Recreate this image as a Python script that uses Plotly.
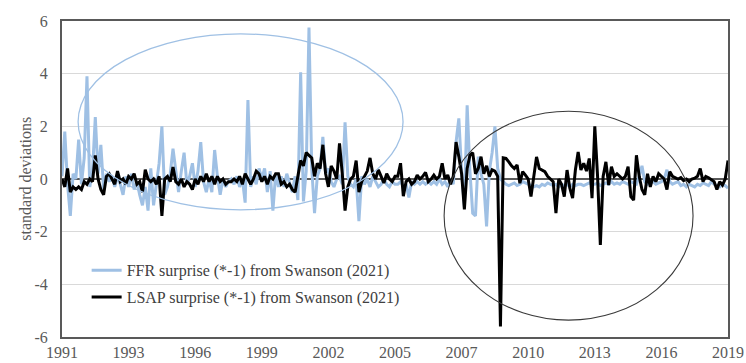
import plotly.graph_objects as go

# Tick labels on the category axis (every 24 announcements)
tick_labels = ["1991", "1993", "1996", "1999", "2002", "2005",
               "2007", "2010", "2013", "2016", "2019"]
y_ticks = [-6, -4, -2, 0, 2, 4, 6]
y_tick_labels = ["-6", "-4", "-2", "0", "2", "4", "6"]

ffr = [
    0.1, 1.8, -0.2, -1.4, 0.2, 0.0, 1.5, -0.2, 0.8, 3.9,
    -0.3, 0.3, 2.35, 0.2, 1.3, -0.4, 0.2, -0.1, 0.1, -0.3,
    0.1, -0.2, -0.6, 0.1, -0.3, 0.2, -0.4, -0.1, -0.6, -1.0,
    -0.3, -1.2, 0.4, -1.0, -0.2, 0.6, 2.0, -0.6, -0.3, 0.2,
    1.15, 0.2, -0.5, 0.3, 1.0, -0.2, 0.1, 0.6, -0.3, 0.3,
    1.4, -0.1, -0.5, 0.0, -0.5, 1.1, 0.1, -0.6, 0.0, -0.3,
    -0.1, 0.0, -0.2, 0.1, -0.3, 0.0, -0.9, 3.0, -0.3, 0.1,
    -0.2, 0.4, 0.0, 0.4, -0.5, 0.3, -1.2, 0.2, -0.3, 0.1,
    -0.3, 0.2, -0.2, -0.5, 0.1, -0.8, 4.05, -0.85, 0.3, 5.75,
    0.4, -1.3, 0.1, 0.4, 1.6, 0.2, 0.4, -0.1, -0.3, 0.0,
    0.1, -0.2, 2.15, 0.1, -0.2, -0.3, 0.0, -1.6, 0.1, -0.2,
    0.0, -0.3, 0.1, -0.1, -0.3, -0.2, 0.0, -0.2, -0.3, -0.1,
    -0.2, -0.2, -0.1, -0.3, -0.2, -0.7, -0.1, -0.2, -0.1, -0.2,
    -0.1, -0.2, -0.1, -0.2, -0.1, -0.2, 0.0, -0.2, -0.1, -0.3,
    0.0, -0.2, 1.4, 2.3, 0.3, -1.05, 2.8, 0.3, -1.3, -1.4,
    0.85, 0.2, -0.2, -1.8, 0.3, 1.0, 2.0, 0.4, 0.0, -0.1,
    -0.2, -0.25, -0.2, -0.15, -0.25, -0.2, -0.1, -0.15, -0.2, -0.25,
    -0.3, -0.25, -0.3, -0.2, -0.25, -0.15, -0.2, -0.25, -0.2, -0.3,
    -0.2, -0.25, -0.2, -0.3, -0.2, -0.25, -0.2, -0.2, -0.25, -0.2,
    -0.15, -0.2, -0.2, -0.15, -0.25, -0.2, -0.15, -0.2, -0.1, -0.2,
    -0.15, -0.2, -0.1, -0.15, -0.2, -0.1, -0.15, -0.2, 0.1, 0.5,
    -0.1, -0.2, -0.15, -0.1, -0.2, -0.15, -0.1, 0.0, 0.35, -0.1,
    -0.2, -0.15, -0.1, -0.25, -0.2, -0.3, -0.2, -0.25, -0.3, -0.2,
    -0.25, -0.15, -0.2, -0.25, -0.1, -0.2, -0.25, -0.3, -0.2, -0.25,
    -0.35,
]

lsap = [
    0.0, -0.3, 0.4, -0.5, -0.3, -0.4, -0.3, -0.4, -0.1, -0.2,
    0.0, -0.1, 0.9, 0.0, -0.4, -0.6, 0.1, 0.2, 0.0, -0.2,
    0.3, -0.1, 0.0, -0.2, 0.1, 0.0, 0.2, -0.2, -0.1, -0.5,
    0.35, 0.0, -0.1, 0.0, -0.2, 0.1, -1.4, 0.0, 0.1, -0.1,
    0.45, -0.1, -0.2, 0.0, -0.3, -0.1, -0.2, -0.4, 0.0, -0.2,
    0.1, -0.1, 0.2, -0.1, 0.1, -0.2, 0.1, -0.1, 0.0, -0.2,
    -0.1, -0.1, 0.0, -0.1, 0.1, -0.2, 0.2, 0.0, -0.2, 0.0,
    0.3, 0.2, -0.1, 0.1, -0.2, 0.1, 0.0, 0.2, 0.2, -0.2,
    -0.1, -0.3, -0.2, -0.4, -0.5, 0.1, 0.7, 0.5, 1.0, 0.9,
    0.8, 0.1, 0.6, 0.4, 1.3, 0.2, -0.3, 0.5, 0.3, 0.0,
    1.35, 0.2, -1.2, -0.3, 0.0, 0.1, 0.7, -0.5, -0.1, 0.1,
    0.3, 0.8, 0.2, 0.0, 0.35, 0.1, -0.15, 0.2, 0.0, -0.1,
    0.1, 0.1, 0.6, -0.65, -0.1, 0.0, -0.2, -0.1, 0.15, 0.0,
    0.1, 0.25, -0.1, 0.0, 0.15, 0.0, 0.1, 0.6, 0.0, 0.15,
    -0.2, 0.1, 1.4, 0.85, 0.2, -1.15, 0.4, 0.9, 1.0, 0.2,
    0.4, 0.85, 0.2, 0.5, 0.1, 0.35, 0.3, 0.1, -5.6, 0.8,
    0.78, 0.65, 0.5, 0.4, 0.53, -0.16, 0.28, 0.15, 0.0, -0.67,
    0.1, 0.84, 0.4, 0.34, 0.28, 0.1, 0.0, -0.1, -1.3, 0.0,
    -0.2, -0.67, 0.34, -0.35, -0.73, 0.34, 1.03, 0.34, 0.6, 0.3,
    0.78, -0.73, 2.0, 0.1, -2.5, 0.1, 0.65, -0.23, 0.47, 0.1,
    0.2, 0.1, 0.0, 0.1, 0.47, -0.67, -0.8, 0.9, 0.1, -0.4,
    -0.6, 0.2, -0.3, 0.1, -0.1, 0.2, 0.1, 0.0, -0.4, 0.28,
    0.1, 0.05, 0.0, 0.05, -0.06, 0.0, -0.1, 0.0, 0.03, 0.1,
    0.4, -0.1, 0.1, 0.05, -0.03, -0.1, -0.4, -0.1, -0.23, 0.0,
    0.7,
]

n = len(ffr)
x = list(range(n))
step = (n - 1) // (len(tick_labels) - 1)
tickvals = [i * step for i in range(len(tick_labels))]

FONT = "Liberation Serif"
GREY = "#595959"

fig = go.Figure()
fig.add_trace(go.Scatter(
    x=x, y=ffr, mode="lines", name="FFR surprise (*-1) from Swanson (2021)",
    line=dict(color="#9fc0e4", width=3), legendgroup="a"))
fig.add_trace(go.Scatter(
    x=x, y=lsap, mode="lines", name="LSAP surprise (*-1) from Swanson (2021)",
    line=dict(color="#000000", width=3), legendgroup="b"))

fig.update_layout(
    width=746, height=363,
    margin=dict(l=62, r=18, t=21, b=26, autoexpand=False),
    paper_bgcolor="white", plot_bgcolor="white",
    font=dict(family=FONT, size=16, color=GREY),
    showlegend=True,
    legend=dict(x=0.037, y=0.265, xanchor="left", yanchor="top",
                bgcolor="rgba(0,0,0,0)", tracegroupgap=3,
                font=dict(family=FONT, size=16, color="#404040")),
    shapes=[
        dict(type="circle", xref="x", yref="y", x0=5.8, x1=122.9, y0=-1.17, y1=5.51,
             line=dict(color="#9fc0e4", width=1.3), layer="above"),
        dict(type="circle", xref="x", yref="y", x0=137.7, x1=227.4, y0=-5.36, y1=2.57,
             line=dict(color="#3a3a3a", width=1.1), layer="above"),
    ],
    annotations=[
        dict(text="standard deviations", xref="paper", yref="paper",
             x=-0.056, y=0.5, xanchor="center", yanchor="middle",
             textangle=-90, showarrow=False,
             font=dict(family=FONT, size=16, color=GREY)),
    ],
)
fig.update_xaxes(
    range=[0, n - 1], tickmode="array", tickvals=tickvals, ticktext=tick_labels,
    showgrid=False, zeroline=False, showline=True, mirror=True, automargin=False,
    linecolor=GREY, linewidth=2, ticks="",
    tickfont=dict(family=FONT, size=16, color=GREY))
fig.update_yaxes(
    range=[-6, 6], tickmode="array", tickvals=y_ticks, ticktext=y_tick_labels,
    showgrid=True, gridcolor="#d9d9d9", gridwidth=1,
    zeroline=True, zerolinecolor=GREY, zerolinewidth=1.5, automargin=False,
    showline=True, mirror=True, linecolor=GREY, linewidth=2, ticks="",
    ticklabelstandoff=9, tickfont=dict(family=FONT, size=16, color=GREY))

fig.write_html("out.html")
